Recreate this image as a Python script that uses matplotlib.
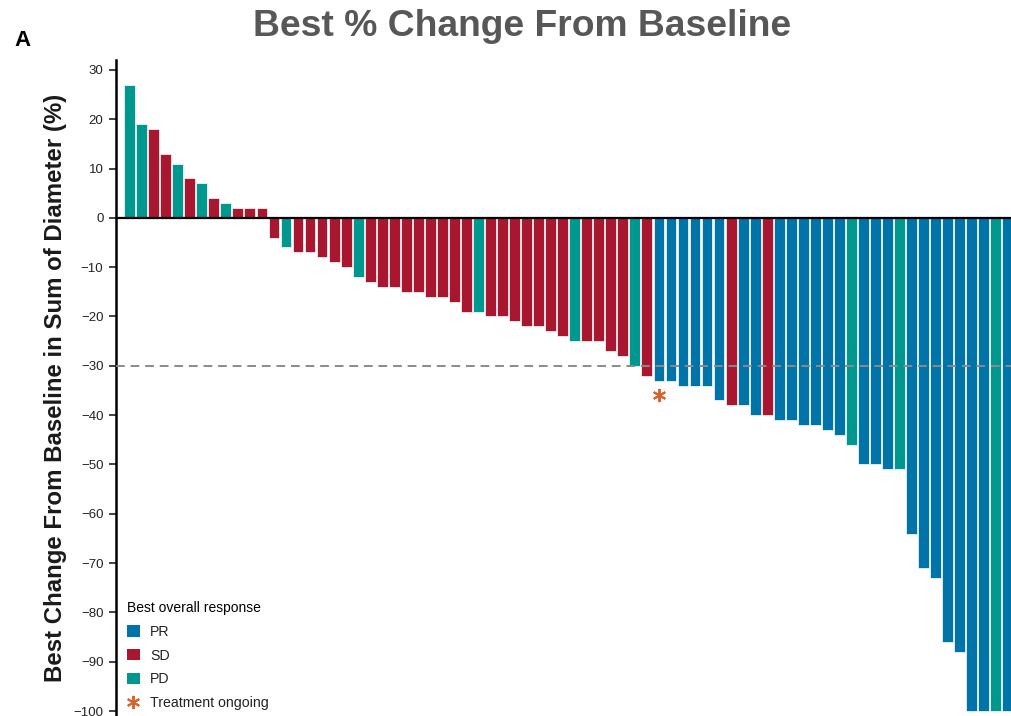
import matplotlib
matplotlib.use('Agg')
import matplotlib.pyplot as plt
from matplotlib.patches import Patch
from matplotlib.lines import Line2D

plt.rcParams['font.family'] = ['Liberation Sans', 'DejaVu Sans']

# Best % change per patient, sorted, with best overall response
pct_change = [
    27, 19, 18, 13, 11, 8, 7, 4, 3, 2, 2, 2,
    -4, -6, -7, -7, -8, -9, -10, -12, -13, -14, -14, -15, -15, -16, -16, -17,
    -19, -19, -20, -20, -21, -22, -22, -23, -24, -25, -25, -25, -27, -28, -30,
    -32, -33, -33, -34, -34, -34, -37, -38, -38, -40, -40, -41, -41, -42, -42,
    -43, -44, -46, -50, -50, -51, -51, -64, -71, -73, -86, -88, -100, -100,
    -100, -100,
]
response = [
    'PD', 'PD', 'SD', 'SD', 'PD', 'SD', 'PD', 'SD', 'PD', 'SD', 'SD', 'SD',
    'SD', 'PD', 'SD', 'SD', 'SD', 'SD', 'SD', 'PD', 'SD', 'SD', 'SD', 'SD',
    'SD', 'SD', 'SD', 'SD', 'SD', 'PD', 'SD', 'SD', 'SD', 'SD', 'SD', 'SD',
    'SD', 'PD', 'SD', 'SD', 'SD', 'SD', 'PD', 'SD', 'PR', 'PR', 'PR', 'PR',
    'PR', 'PR', 'SD', 'PR', 'PR', 'SD', 'PR', 'PR', 'PR', 'PR', 'PR', 'PR',
    'PD', 'PR', 'PR', 'PR', 'PD', 'PR', 'PR', 'PR', 'PR', 'PR', 'PR', 'PR',
    'PD', 'PR',
]
# patients still on treatment (index, marker value)
ongoing_idx = [44]
ongoing_val = [-36]

colors = {'PR': '#0073a8', 'SD': '#a8172f', 'PD': '#00978f'}
star_color = '#d9622b'
star = (6, 2, 0)

fig = plt.figure(figsize=(10.12, 7.16), dpi=100)
ax = fig.add_axes([116 / 1012, 0, 1 - 116 / 1012, 656 / 716])

x = range(len(pct_change))
ax.bar(x, pct_change, width=0.9, color=[colors[r] for r in response],
       edgecolor='white', linewidth=0.5, zorder=2)
ax.axhline(0, color='black', linewidth=1.6, zorder=3)
ax.axhline(-30, color='#8a8a8a', linewidth=1.4, linestyle=(0, (4.5, 3)), zorder=4)
ax.plot(ongoing_idx, ongoing_val, linestyle='none', marker=star,
        markersize=9.5, markeredgewidth=1.4, color=star_color, zorder=5)

ax.set_xlim(-1.13, 73.35)
ax.set_ylim(-101, 32)
ax.set_yticks(range(-100, 31, 10))
ax.tick_params(axis='y', length=5, width=1.2, labelsize=9.5, colors='#222222', pad=4)
ax.set_xticks([])
for s in ['top', 'right', 'bottom']:
    ax.spines[s].set_visible(False)
ax.spines['left'].set_linewidth(1.8)

ax.set_ylabel('Best Change From Baseline in Sum of Diameter (%)',
              fontsize=17.3, fontweight='bold', color='#1a1a1a', labelpad=5)

fig.text(522 / 1012, 1 - 26 / 716, 'Best % Change From Baseline', fontsize=26.8,
         fontweight='bold', color='#575757', ha='center', va='center')
fig.text(14 / 1012, 1 - 40 / 716, 'A', fontsize=16, fontweight='bold',
         color='black', ha='left', va='center')

handles = [Patch(facecolor=colors['PR'], edgecolor='none'),
           Patch(facecolor=colors['SD'], edgecolor='none'),
           Patch(facecolor=colors['PD'], edgecolor='none'),
           Line2D([], [], linestyle='none', marker=star, markersize=9.5,
                  markeredgewidth=1.4, color=star_color)]
leg = ax.legend(handles, ['PR', 'SD', 'PD', 'Treatment ongoing'],
                title='Best overall response', loc='lower left',
                bbox_to_anchor=(0.006, 0.0), frameon=False, fontsize=10.2,
                title_fontsize=10, handlelength=0.9, handleheight=0.9,
                handletextpad=0.72, labelspacing=0.7, alignment='left',
                borderaxespad=0.0)
for t in leg.get_texts():
    t.set_color('#222222')

fig.savefig('out.png', dpi=100)
